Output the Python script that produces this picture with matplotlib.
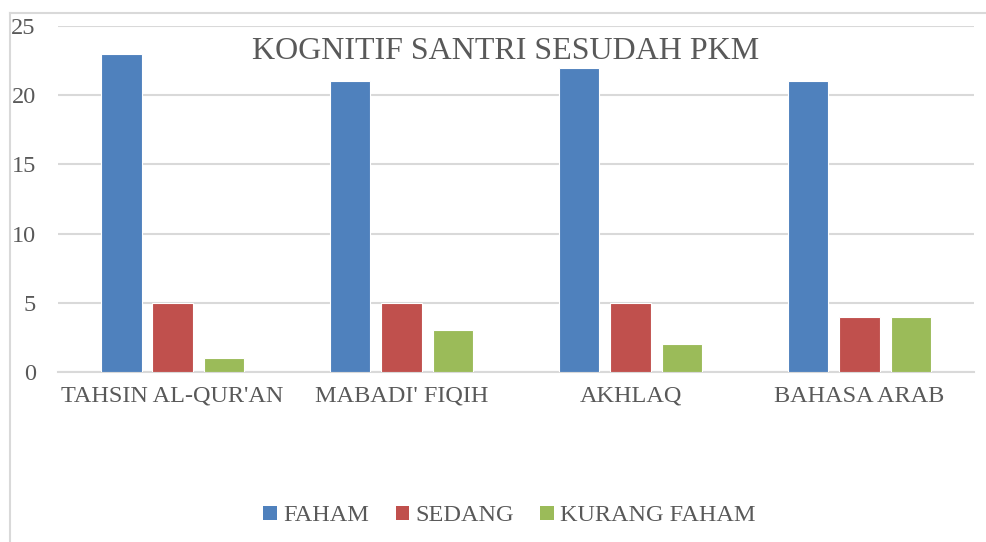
import numpy as np
import matplotlib.pyplot as plt
from matplotlib.lines import Line2D
from matplotlib.patches import Patch

# Data
categories = ["TAHSIN AL-QUR'AN", "MABADI' FIQIH", "AKHLAQ", "BAHASA ARAB"]
faham = [23, 21, 22, 21]
sedang = [5, 5, 5, 4]
kurang_faham = [1, 3, 2, 4]
series_names = ["FAHAM", "SEDANG", "KURANG FAHAM"]
colors = ["#4F81BD", "#C0504D", "#9BBB59"]

plt.rcParams["font.family"] = ["Liberation Serif", "DejaVu Serif"]
text_color = "#595959"

fig = plt.figure(figsize=(9.87, 5.42), dpi=100)
ax = fig.add_axes([0.0588, 0.3137, 0.928, 0.6383])

x = np.arange(len(categories))
width = 0.175
step = 0.223
for i, (vals, name, c) in enumerate(zip([faham, sedang, kurang_faham], series_names, colors)):
    ax.bar(x + (i - 1) * step, vals, width, color=c, edgecolor="white", linewidth=0.8,
           label=name, zorder=3)

ax.set_xlim(-0.5, len(categories) - 0.5)
ax.set_ylim(0, 25)
ax.set_yticks(range(0, 26, 5))
ax.yaxis.grid(True, color="#D9D9D9", linewidth=1.5, zorder=0)
ax.set_axisbelow(True)
for s in ["top", "right", "left"]:
    ax.spines[s].set_visible(False)
ax.spines["bottom"].set_color("#D9D9D9")
ax.spines["bottom"].set_linewidth(1.5)
ax.tick_params(axis="both", length=0, labelsize=17.5, colors=text_color)
ax.tick_params(axis="y", pad=16)
ax.tick_params(axis="x", pad=10)
ax.set_xticks(x)
ax.set_xticklabels(categories)

fig.text(0.512, 0.905, "KOGNITIF SANTRI SESUDAH PKM", ha="center", va="center",
         fontsize=23, color=text_color)

# Chart border (left and top)
fig.add_artist(Line2D([0.0105, 0.0105], [0, 0.976], color="#D9D9D9", linewidth=1.5))
fig.add_artist(Line2D([0.0105, 1.0], [0.976, 0.976], color="#D9D9D9", linewidth=1.5))

handles = [Patch(facecolor=c, edgecolor="none") for c in colors]
fig.legend(handles, series_names, loc="center", bbox_to_anchor=(0.516, 0.048), ncol=3,
           frameon=False, fontsize=17.5, labelcolor=text_color, handlelength=0.55,
           handleheight=0.55, handletextpad=0.25, columnspacing=1.1)

fig.savefig("out.png", dpi=100)
